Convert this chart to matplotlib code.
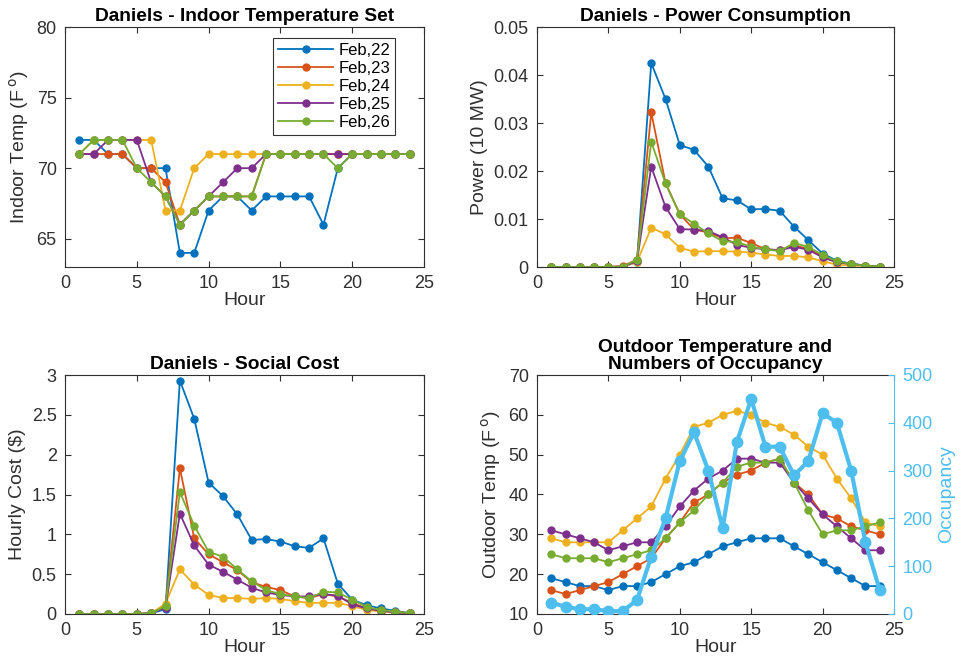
import matplotlib
matplotlib.use("Agg")
import matplotlib.pyplot as plt
import numpy as np

plt.rcParams['font.family'] = ['Liberation Sans', 'DejaVu Sans']

hours = list(range(1, 25))
days = ['Feb,22', 'Feb,23', 'Feb,24', 'Feb,25', 'Feb,26']
colors = ['#0072BD', '#D95319', '#EDB120', '#7E2F8E', '#77AC30']
occ_color = '#4DBEEE'

indoor_22 = [72, 72, 71, 71, 70, 70, 70, 64, 64, 67, 68, 68, 67, 68, 68, 68, 68, 66, 70, 71, 71, 71, 71, 71]
indoor_23 = [71, 71, 71, 71, 70, 70, 69, 66, 67, 68, 68, 68, 68, 71, 71, 71, 71, 71, 71, 71, 71, 71, 71, 71]
indoor_24 = [71, 72, 72, 72, 72, 72, 67, 67, 70, 71, 71, 71, 71, 71, 71, 71, 71, 71, 71, 71, 71, 71, 71, 71]
indoor_25 = [71, 71, 72, 72, 72, 69, 68, 66, 67, 68, 69, 70, 70, 71, 71, 71, 71, 71, 71, 71, 71, 71, 71, 71]
indoor_26 = [71, 72, 72, 72, 70, 69, 68, 66, 67, 68, 68, 68, 68, 71, 71, 71, 71, 71, 70, 71, 71, 71, 71, 71]

power_22 = [0, 0, 0, 0, 0, 0.0001, 0.001, 0.0425, 0.035, 0.0254, 0.0244, 0.0209, 0.0143, 0.0139, 0.012, 0.0121, 0.0117, 0.0084, 0.0056, 0.0028, 0.0013, 0.0007, 0.0003, 0.0001]
power_23 = [0, 0, 0, 0, 0, 0.0002, 0.0015, 0.0322, 0.0175, 0.011, 0.0078, 0.0072, 0.006, 0.0061, 0.005, 0.0037, 0.0035, 0.0045, 0.0038, 0.0022, 0.001, 0.0006, 0.0003, 0.0001]
power_24 = [0, 0, 0, 0, 0, 0.0001, 0.001, 0.0082, 0.0068, 0.004, 0.0032, 0.0033, 0.0033, 0.0032, 0.003, 0.0026, 0.0023, 0.0023, 0.002, 0.0012, 0.0005, 0.0003, 0.0002, 0.0001]
power_25 = [0, 0, 0, 0, 0, 0.0001, 0.0012, 0.0209, 0.0125, 0.0079, 0.0078, 0.0075, 0.0062, 0.0046, 0.004, 0.0037, 0.0035, 0.0042, 0.0036, 0.002, 0.001, 0.0006, 0.0003, 0.0001]
power_26 = [0, 0, 0, 0, 0, 0.0001, 0.0015, 0.0261, 0.0174, 0.011, 0.009, 0.007, 0.0054, 0.0052, 0.0042, 0.0037, 0.0033, 0.005, 0.0042, 0.0025, 0.0012, 0.0006, 0.0003, 0.0001]

cost_22 = [0, 0, 0, 0, 0, 0.01, 0.06, 2.93, 2.45, 1.65, 1.48, 1.25, 0.93, 0.94, 0.91, 0.85, 0.83, 0.95, 0.38, 0.18, 0.11, 0.07, 0.04, 0.01]
cost_23 = [0, 0, 0, 0, 0, 0.01, 0.10, 1.83, 0.95, 0.75, 0.65, 0.55, 0.40, 0.34, 0.30, 0.22, 0.20, 0.25, 0.22, 0.14, 0.07, 0.05, 0.03, 0.01]
cost_24 = [0, 0, 0, 0, 0, 0.01, 0.13, 0.56, 0.37, 0.24, 0.20, 0.20, 0.19, 0.20, 0.19, 0.16, 0.14, 0.14, 0.14, 0.10, 0.05, 0.03, 0.02, 0.01]
cost_25 = [0, 0, 0, 0, 0, 0.01, 0.08, 1.26, 0.86, 0.62, 0.53, 0.43, 0.33, 0.27, 0.24, 0.22, 0.22, 0.25, 0.23, 0.12, 0.07, 0.04, 0.02, 0.01]
cost_26 = [0, 0, 0, 0, 0, 0.01, 0.10, 1.53, 1.11, 0.78, 0.72, 0.56, 0.41, 0.30, 0.25, 0.22, 0.20, 0.28, 0.27, 0.18, 0.09, 0.05, 0.03, 0.01]

outdoor_22 = [19, 18, 17, 17, 16, 17, 17, 18, 20, 22, 23, 25, 27, 28, 29, 29, 29, 27, 25, 23, 21, 19, 17, 17]
outdoor_23 = [16, 15, 16, 17, 18, 20, 22, 24, 29, 33, 38, 40, 43, 45, 46, 48, 49, 43, 40, 35, 34, 32, 31, 30]
outdoor_24 = [29, 28, 28, 28, 28, 31, 34, 37, 44, 50, 57, 58, 60, 61, 60, 58, 57, 55, 52, 50, 44, 39, 33, 32]
outdoor_25 = [31, 30, 29, 28, 26, 27, 28, 28, 32, 37, 41, 44, 46, 49, 49, 48, 48, 43, 39, 35, 32, 29, 26, 26]
outdoor_26 = [25, 24, 24, 24, 23, 24, 25, 26, 29, 33, 36, 40, 43, 47, 48, 48, 49, 43, 36, 30, 31, 31, 32, 33]

occupancy = [24, 15, 10, 10, 6, 6, 29, 120, 200, 320, 380, 300, 180, 360, 450, 350, 350, 290, 320, 420, 400, 300, 150, 50]

indoor = [indoor_22, indoor_23, indoor_24, indoor_25, indoor_26]
power = [power_22, power_23, power_24, power_25, power_26]
cost = [cost_22, cost_23, cost_24, cost_25, cost_26]
outdoor = [outdoor_22, outdoor_23, outdoor_24, outdoor_25, outdoor_26]

txt = '#303030'
W, H = 964, 667
fig = plt.figure(figsize=(W / 100, H / 100), dpi=100)

def rect(x0, y0, x1, y1):
    return [x0 / W, 1 - y1 / H, (x1 - x0) / W, (y1 - y0) / H]

ax1 = fig.add_axes(rect(65, 27, 424, 267))
ax2 = fig.add_axes(rect(537, 27, 894, 267))
ax3 = fig.add_axes(rect(65, 375, 424, 614))
ax4 = fig.add_axes(rect(537, 375, 894, 614))

TICK = 13
LAB = 14
TIT = 13.8

def style(ax, right=True):
    for s in ax.spines.values():
        s.set_color(txt)
        s.set_linewidth(0.8)
    ax.tick_params(direction='in', length=4, width=0.8, colors=txt,
                   labelsize=TICK, top=True, right=right, pad=6)
    ax.set_xlim(0, 25)
    ax.set_xticks([0, 5, 10, 15, 20, 25])
    ax.set_xlabel('Hour', fontsize=LAB, color=txt, labelpad=0)

def draw(ax, data):
    for d, c, lab in zip(data, colors, days):
        ax.plot(hours, d, '-o', color=c, lw=1.3, ms=5, label=lab)

draw(ax1, indoor)
style(ax1)
ax1.set_ylim(63, 80)
ax1.set_yticks([65, 70, 75, 80])
ax1.set_ylabel('Indoor Temp (F$\\,^{\\rm o}$)', fontsize=LAB, color=txt)
ax1.set_title('Daniels - Indoor Temperature Set', fontsize=TIT, fontweight='bold', color='black', pad=4)
leg = ax1.legend(loc='upper right', bbox_to_anchor=(0.92, 0.955), fontsize=12, frameon=True,
                 fancybox=False, edgecolor='black', handlelength=3.3, borderpad=0.3,
                 labelspacing=0.18, handletextpad=0.3, borderaxespad=0)
leg.get_frame().set_linewidth(0.8)

draw(ax2, power)
style(ax2)
ax2.set_ylim(0, 0.05)
ax2.set_yticks([0, 0.01, 0.02, 0.03, 0.04, 0.05])
ax2.set_yticklabels(['0', '0.01', '0.02', '0.03', '0.04', '0.05'])
ax2.set_ylabel('Power (10 MW)', fontsize=LAB, color=txt)
ax2.set_title('Daniels - Power Consumption', fontsize=TIT, fontweight='bold', color='black', pad=4)

draw(ax3, cost)
style(ax3)
ax3.set_ylim(0, 3)
ax3.set_yticks([0, 0.5, 1, 1.5, 2, 2.5, 3])
ax3.set_yticklabels(['0', '0.5', '1', '1.5', '2', '2.5', '3'])
ax3.set_ylabel('Hourly Cost ($)', fontsize=LAB, color=txt)
ax3.set_title('Daniels - Social Cost', fontsize=TIT, fontweight='bold', color='black', pad=4)

draw(ax4, outdoor)
style(ax4, right=False)
ax4.set_ylim(10, 70)
ax4.set_yticks([10, 20, 30, 40, 50, 60, 70])
ax4.set_ylabel('Outdoor Temp (F$\\,^{\\rm o}$)', fontsize=LAB, color=txt)
ax4.set_title('Outdoor Temperature and\nNumbers of Occupancy', fontsize=TIT, fontweight='bold',
              color='black', pad=4, linespacing=1.0)
ax4.spines['right'].set_visible(False)
ax5 = ax4.twinx()
ax5.plot(hours, occupancy, '-o', color=occ_color, lw=3, ms=7.5)
ax5.set_ylim(0, 500)
ax5.set_yticks([0, 100, 200, 300, 400, 500])
for s in ['left', 'top', 'bottom']:
    ax5.spines[s].set_visible(False)
ax5.spines['right'].set_color(occ_color)
ax5.spines['right'].set_linewidth(0.8)
ax5.tick_params(direction='in', length=4, width=0.8, colors=occ_color, labelsize=TICK, pad=6)
ax5.set_ylabel('Occupancy', fontsize=LAB, color=occ_color)

fig.savefig('out.png', dpi=100)
